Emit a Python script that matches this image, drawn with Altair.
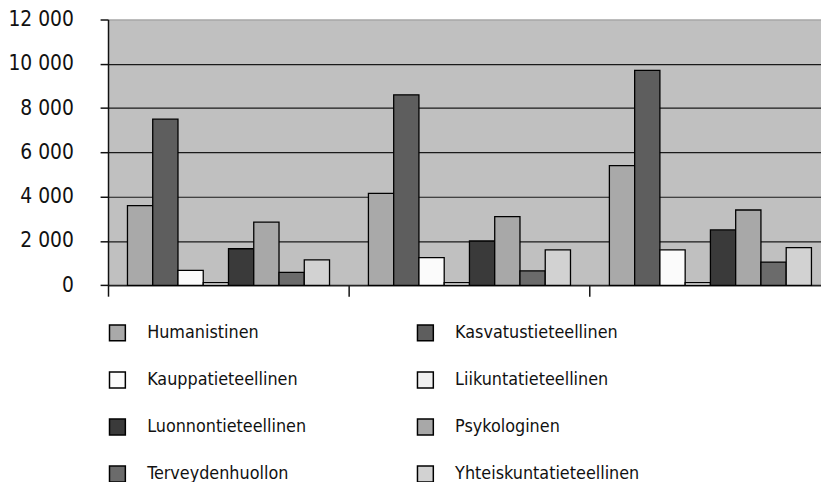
import altair as alt
import pandas as pd

# Groups (category labels are not shown in the original)
groups = ["Ryhmä 1", "Ryhmä 2", "Ryhmä 3"]

fields = [
    "Humanistinen",
    "Kasvatustieteellinen",
    "Kauppatieteellinen",
    "Liikuntatieteellinen",
    "Luonnontieteellinen",
    "Psykologinen",
    "Terveydenhuollon",
    "Yhteiskuntatieteellinen",
]

humanistinen = [3600, 4150, 5400]
kasvatustieteellinen = [7500, 8600, 9700]
kauppatieteellinen = [670, 1250, 1600]
liikuntatieteellinen = [120, 120, 120]
luonnontieteellinen = [1650, 2000, 2500]
psykologinen = [2850, 3100, 3400]
terveydenhuollon = [580, 650, 1050]
yhteiskuntatieteellinen = [1150, 1600, 1700]

colors = ["#a9a9a9", "#5e5e5e", "#fbfbfb", "#f0f0f0",
          "#3a3a3a", "#a8a8a8", "#6b6b6b", "#d2d2d2"]

# legend is laid out column by column: order entries so rows read as in the original
legend_order = [
    "Humanistinen", "Kauppatieteellinen", "Luonnontieteellinen", "Terveydenhuollon",
    "Kasvatustieteellinen", "Liikuntatieteellinen", "Psykologinen", "Yhteiskuntatieteellinen",
]
color_of = dict(zip(fields, colors))
legend_colors = [color_of[f] for f in legend_order]

y_ticks = [0, 2000, 4000, 6000, 8000, 10000, 12000]

series = [humanistinen, kasvatustieteellinen, kauppatieteellinen, liikuntatieteellinen,
          luonnontieteellinen, psykologinen, terveydenhuollon, yhteiskuntatieteellinen]

rows = []
for f, vals in zip(fields, series):
    for g, v in zip(groups, vals):
        rows.append({"ryhma": g, "ala": f, "arvo": v})
df = pd.DataFrame(rows)

FONT = "DejaVu Sans Condensed, Liberation Sans, sans-serif"

chart = alt.Chart(df).mark_bar(stroke="black", strokeWidth=1.3).encode(
    x=alt.X(
        "ryhma:N", sort=groups,
        scale=alt.Scale(range=[0, 730], paddingInner=0, paddingOuter=0),
        axis=alt.Axis(labels=False, title=None, bandPosition=0, tickSize=11,
                      tickColor="#111", tickWidth=1.5, domainColor="#222",
                      domainWidth=1.5, grid=False),
    ),
    xOffset=alt.XOffset("ala:N", sort=fields,
                        scale=alt.Scale(paddingInner=0, paddingOuter=0.77)),
    y=alt.Y(
        "arvo:Q",
        scale=alt.Scale(domain=[0, 12000], nice=False),
        axis=alt.Axis(
            values=y_ticks, title=None,
            labelExpr="replace(format(datum.value, ','), ',', ' ')",
            grid=True,
            gridColor={"condition": {"test": "datum.value == 12000", "value": "#9a9a9a"},
                       "value": "#1a1a1a"},
            gridWidth=1.2,
            tickSize=8, tickColor="#111", tickWidth=1.5,
            domainColor="#111", domainWidth=1.5,
            labelFont=FONT, labelFontSize=21, labelColor="#111",
            labelPadding=27,
        ),
    ),
    color=alt.Color(
        "ala:N",
        scale=alt.Scale(domain=legend_order, range=legend_colors),
        legend=alt.Legend(
            title=None, orient="none", legendX=0.5, legendY=307.5, columns=2,
            symbolType="square", symbolSize=256, symbolStrokeColor="black",
            symbolStrokeWidth=1.5, labelFont=FONT, labelFontSize=18,
            labelColor="#111", labelOffset=21, rowPadding=25.5, columnPadding=109,
            labelLimit=400,
        ),
    ),
).properties(
    width=720, height=268.4,
    autosize=alt.AutoSizeParams(type="none"),
    padding={"left": 101, "top": 9.3, "right": 0, "bottom": 196},
).configure_view(
    stroke=None, fill="#c0c0c0"
)

chart.save("out.html", embed_options={"renderer": "svg", "actions": False})
